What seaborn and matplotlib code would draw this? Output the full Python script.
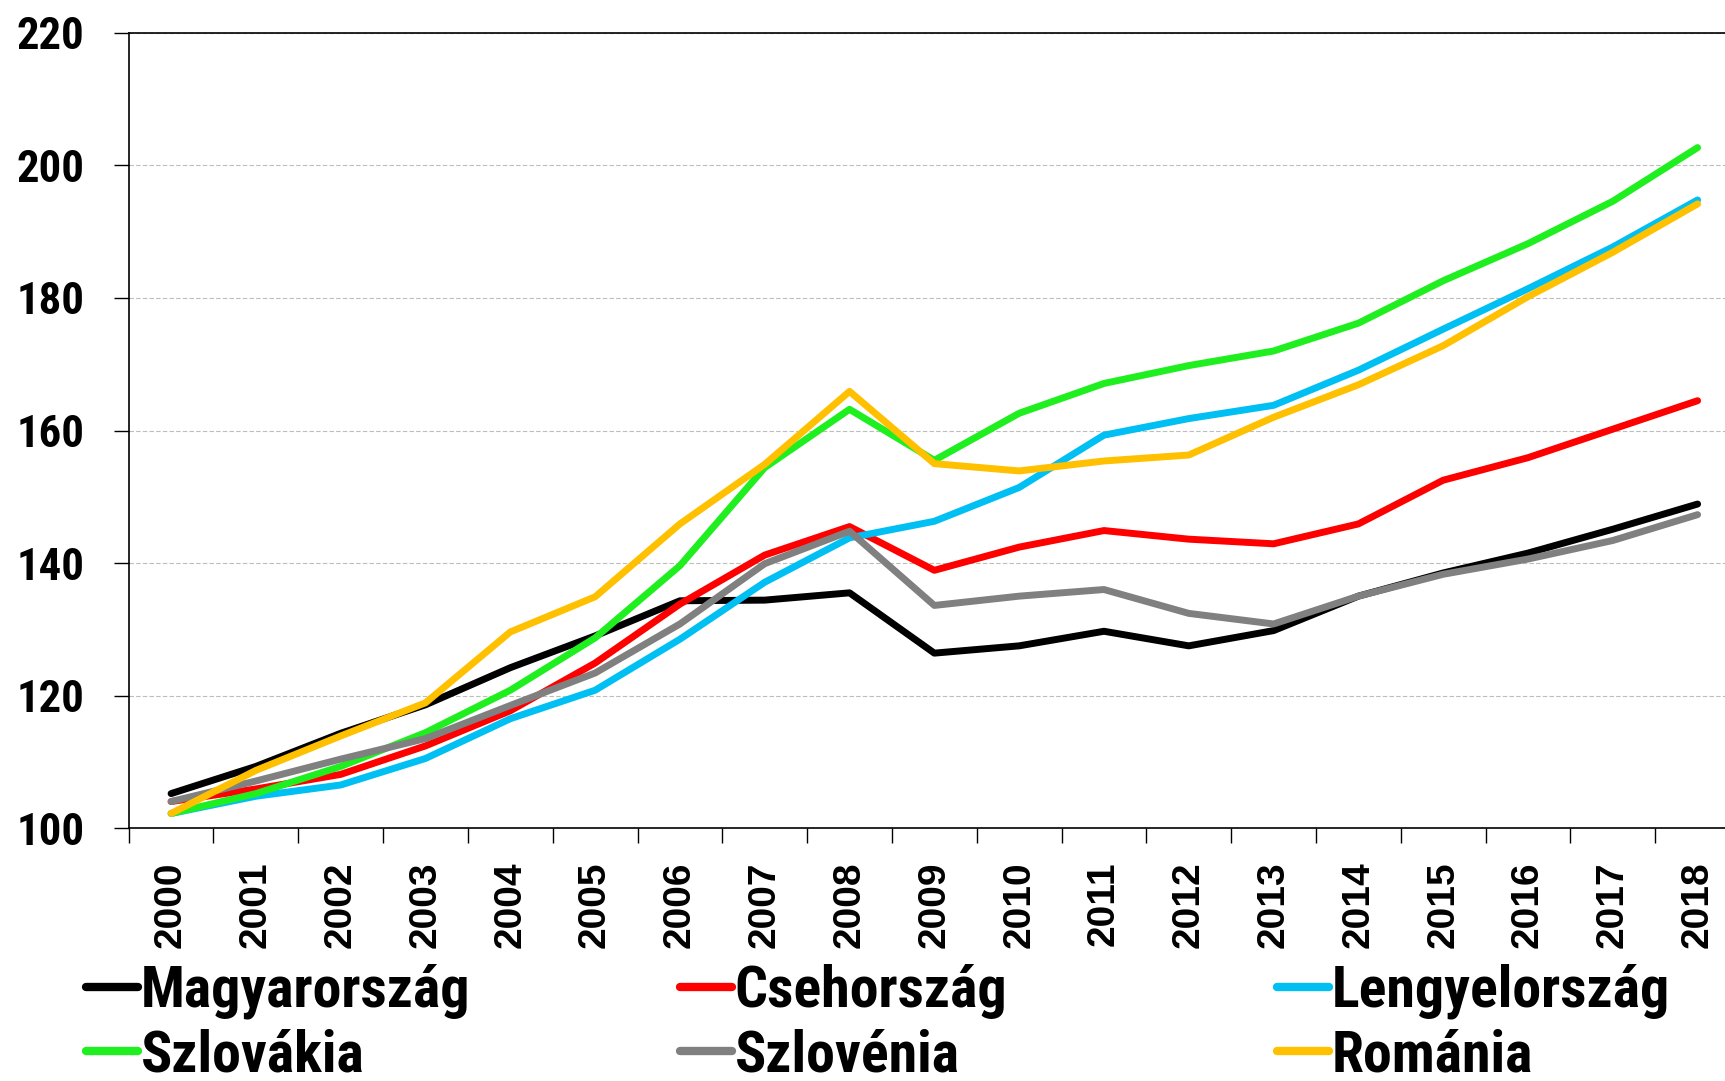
"""
Reálbér-index 2000-2018 (2000 = 100), visegrádi és környező országok.
"""

import numpy as np
import pandas as pd
import matplotlib
matplotlib.use("Agg")
import matplotlib.pyplot as plt
from matplotlib import font_manager as fm
from matplotlib.font_manager import FontProperties
from matplotlib.ticker import FixedLocator, NullFormatter
import seaborn as sns

# Adatok
years = list(range(2000, 2019))
countries = ['Magyarország', 'Csehország', 'Lengyelország',
             'Szlovákia', 'Szlovénia', 'Románia']

magyarorszag = [105.2, 109.3, 114.3, 118.6, 124.2, 129.0, 134.3, 134.4, 135.5, 126.4,
                127.5, 129.7, 127.5, 129.8, 135.0, 138.5, 141.5, 145.1, 148.9]
csehorszag = [104.0, 105.9, 108.1, 112.4, 117.7, 124.9, 133.8, 141.2, 145.5, 138.9,
              142.4, 144.9, 143.6, 142.9, 145.9, 152.5, 155.9, 160.2, 164.5]
lengyelorszag = [102.2, 104.8, 106.5, 110.5, 116.5, 120.8, 128.5, 137.1, 143.8, 146.3,
                 151.4, 159.3, 161.8, 163.8, 169.1, 175.3, 181.4, 187.7, 194.8]
szlovakia = [102.2, 105.2, 109.3, 114.4, 120.8, 128.7, 139.6, 154.4, 163.2, 155.5,
             162.6, 167.1, 169.8, 172.0, 176.2, 182.6, 188.2, 194.6, 202.7]
szlovenia = [104.0, 107.1, 110.4, 113.5, 118.5, 123.4, 130.8, 139.9, 144.8, 133.6,
             135.0, 136.0, 132.4, 130.8, 135.0, 138.3, 140.6, 143.4, 147.3]
romania = [102.2, 108.7, 113.9, 118.9, 129.6, 134.9, 145.9, 154.9, 165.9, 155.0,
           153.9, 155.4, 156.3, 162.0, 166.9, 172.8, 180.2, 186.9, 194.2]

series = [magyarorszag, csehorszag, lengyelorszag, szlovakia, szlovenia, romania]
colors = ['#000000', '#FF0000', '#00BFF3', '#1FEF1F', '#808080', '#FFC000']

df = pd.DataFrame({
    'year': years * len(countries),
    'value': np.concatenate(series),
    'country': np.repeat(countries, len(years)),
})

sns.set_style('white')
plt.rcParams['font.family'] = ['Liberation Sans', 'DejaVu Sans']
plt.rcParams['text.color'] = 'black'
plt.rcParams['xtick.color'] = 'black'
plt.rcParams['ytick.color'] = 'black'


def _bold(f):
    w = f.weight
    if isinstance(w, str):
        return w in ('bold', 'heavy', 'black', 'extra bold', 'demibold', 'semibold')
    return w >= 600


def narrow_font():
    """Keskeny félkövér betű, ha van ilyen telepítve."""
    preferred = ['Liberation Sans Narrow', 'Arial Narrow', 'Roboto Condensed',
                 'Open Sans Condensed', 'Noto Sans Condensed']
    fonts = fm.fontManager.ttflist
    for name in preferred:
        if any(f.name == name and _bold(f) for f in fonts):
            return FontProperties(family=name, weight='bold')
    for f in fonts:
        if ('Narrow' in f.name or 'Condensed' in f.name) and _bold(f):
            return FontProperties(family=f.name, weight='bold')
    for f in fonts:
        if 'condensed' in str(f.stretch) and _bold(f):
            return FontProperties(family=f.name, weight='bold', stretch='condensed')
    return FontProperties(family='Liberation Sans', weight='bold')


def fit_size(fig, text, prop, target_px, start=30):
    """Betűméret, amelynél a szöveg szélessége target_px lesz."""
    t = fig.text(0, 0, text, fontproperties=prop, fontsize=start)
    w = t.get_window_extent(fig.canvas.get_renderer()).width
    t.remove()
    return start * target_px / w


fig = plt.figure(figsize=(17.25, 10.81), dpi=100)
ax = fig.add_axes([0.0746, 0.234, 1.0087 - 0.0746, 0.9695 - 0.234])

narrow = narrow_font()
ysize = fit_size(fig, '200', narrow, 68)
lsize = fit_size(fig, 'Magyarország', narrow, 330)

sns.lineplot(data=df, x='year', y='value', hue='country', hue_order=countries,
             palette=colors, linewidth=5, legend=False, ax=ax)

ax.set_xlim(1999.5, 2018.5)
ax.set_ylim(100, 220)
ax.set_xlabel('')
ax.set_ylabel('')

# X tengely: feliratok a kategóriák közepén, jelölők köztük
ax.set_xticks(years)
ax.set_xticklabels([str(y) for y in years], rotation=90, fontsize=28,
                   fontweight='bold')
ax.xaxis.set_minor_locator(FixedLocator(np.arange(1999.5, 2019, 1)))
ax.xaxis.set_minor_formatter(NullFormatter())
ax.tick_params(axis='x', which='major', length=0, pad=24)
ax.tick_params(axis='x', which='minor', length=11, width=1, color='black',
               direction='out', bottom=True)

# Y tengely
ax.set_yticks(range(100, 221, 20))
for lab in ax.get_yticklabels():
    lab.set_fontproperties(narrow)
    lab.set_fontsize(ysize)
ax.tick_params(axis='y', length=11, width=1, color='black', direction='out',
               left=True, pad=21)

ax.yaxis.grid(True, linestyle=(0, (4, 2)), color='#BDBDBD', linewidth=0.8)
ax.xaxis.grid(False)
for side in ['left', 'bottom', 'top']:
    ax.spines[side].set_color('black')
    ax.spines[side].set_linewidth(1.2)
ax.spines['right'].set_visible(False)

# Jelmagyarázat: három oszlop, két sor
legend_prop = narrow.copy()
legend_prop.set_size(lsize)
col_x = [0.05, 0.394, 0.740]
for i, x0 in enumerate(col_x):
    idx = [i, i + 3]
    handles = [plt.Line2D([], [], color=colors[k], linewidth=6) for k in idx]
    fig.legend(handles, [countries[k] for k in idx], loc='center left',
               bbox_to_anchor=(x0, 0.053), frameon=False, borderpad=0,
               borderaxespad=0, handlelength=52 / (lsize * 100 / 72),
               handletextpad=0.05, labelspacing=0.16, prop=legend_prop)

plt.savefig('out.png', dpi=100)
plt.close()
